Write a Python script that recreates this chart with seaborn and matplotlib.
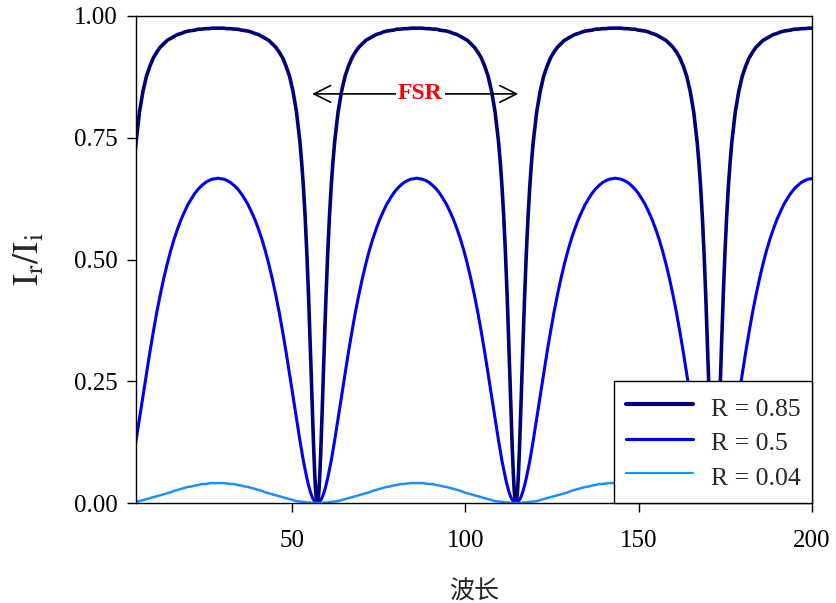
import matplotlib
matplotlib.use("Agg")
import matplotlib.pyplot as plt
import pandas as pd
import seaborn as sns

# Positions of the reflection minima (one free spectral range apart)
dips = [0.0, 57.3, 114.6, 171.9, 229.2]

# Distance from a minimum and the reflected fraction read at that distance
offsets = [0, 0.25, 0.5, 0.75, 1, 1.25, 1.5, 1.75, 2, 2.5, 3, 3.5, 4, 4.5, 5,
           6, 7, 8, 9, 10, 11, 12, 13, 14, 15, 16, 17, 18, 19, 20, 21, 22,
           23, 24, 25, 26, 27, 28, 28.65]
r085 = [0.000, 0.007, 0.028, 0.062, 0.105, 0.155, 0.208, 0.264, 0.318,
        0.421, 0.511, 0.587, 0.649, 0.699, 0.741,
        0.803, 0.845, 0.876, 0.897, 0.914, 0.926, 0.936, 0.943, 0.950,
        0.954, 0.958, 0.962, 0.964, 0.967, 0.969, 0.970, 0.971, 0.973,
        0.973, 0.974, 0.974, 0.975, 0.975, 0.975]
r050 = [0.000, 0.000, 0.002, 0.003, 0.006, 0.009, 0.013, 0.018, 0.023,
        0.036, 0.051, 0.068, 0.086, 0.107, 0.128,
        0.173, 0.219, 0.265, 0.310, 0.352, 0.392, 0.428, 0.461, 0.491,
        0.518, 0.542, 0.563, 0.582, 0.598, 0.613, 0.625, 0.636, 0.645,
        0.652, 0.658, 0.662, 0.665, 0.666, 0.667]
r004 = [0.000, 0.000, 0.000, 0.000, 0.000, 0.000, 0.000, 0.000, 0.001,
        0.001, 0.001, 0.002, 0.002, 0.003, 0.003,
        0.004, 0.006, 0.008, 0.010, 0.012, 0.014, 0.016, 0.018, 0.020,
        0.022, 0.025, 0.027, 0.029, 0.031, 0.033, 0.034, 0.036, 0.037,
        0.039, 0.039, 0.040, 0.041, 0.041, 0.041]

labels = ["R = 0.85", "R = 0.5", "R = 0.04"]
colors = ["#00007a", "#0000f0", "#1e8fff"]
widths = [2.6, 2.2, 1.8]
legend_widths = [3.0, 2.3, 1.6]

yticks = [0.0, 0.25, 0.5, 0.75, 1.0]
xticks = [50, 100, 150, 200]

# Long-form table: every profile sample mirrored around each minimum
rows = []
for c in dips:
    for sign in (-1, 1):
        for d, a, b, e in zip(offsets, r085, r050, r004, strict=True):
            x = round(c + sign * d, 3)
            rows.append((x, labels[0], a))
            rows.append((x, labels[1], b))
            rows.append((x, labels[2], e))
df = pd.DataFrame(rows, columns=["x", "R", "y"])
df = df.drop_duplicates(subset=["x", "R"]).sort_values("x")

sns.set_theme(style="ticks")
plt.rcParams["font.family"] = ["Liberation Serif", "DejaVu Serif"]
plt.rcParams["mathtext.fontset"] = "stix"

fig = plt.figure(figsize=(8.37, 6.03), dpi=100)
ax = fig.add_axes([0.1625, 0.1658, 0.8075, 0.8077])

for lab, col, lw in zip(labels, colors, widths):
    sub = df[df["R"] == lab]
    sns.lineplot(data=sub, x="x", y="y", color=col, linewidth=lw,
                 estimator=None, sort=True, ax=ax, label=lab)

ax.set_xlim(5, 200)
ax.set_ylim(0, 1)
ax.set_xticks(xticks)
ax.set_yticks(yticks)
ax.set_yticklabels([f"{v:.2f}" for v in yticks])
ax.tick_params(axis="both", direction="out", length=6.5, width=1,
               labelsize=18, color="black", labelcolor="black")
ax.tick_params(axis="y", pad=7)
ax.tick_params(axis="x", pad=13)
ax.tick_params(top=False, right=False)
for s in ax.spines.values():
    s.set_visible(True)
    s.set_color("black")
    s.set_linewidth(1.0)

ax.set_ylabel(r"$\mathrm{I_r/I_i}$", fontsize=26, labelpad=19)
ax.set_xlabel("波长", family=["Noto Sans CJK SC", "DejaVu Sans"],
              fontsize=18, labelpad=19)

# Free spectral range marker
ax.annotate("", xy=(55.8, 0.84), xytext=(115.3, 0.84),
            arrowprops=dict(arrowstyle="<->", color="black", lw=1.2,
                            mutation_scale=30, shrinkA=0, shrinkB=0))
ax.text(87, 0.84, "FSR", color="#ff0000", fontsize=17, fontweight="bold",
        ha="center", va="center",
        bbox=dict(facecolor="white", edgecolor="none", pad=1.5))

leg = ax.legend(loc="lower right", fontsize=18.5, frameon=True,
                fancybox=False, edgecolor="black", framealpha=1,
                borderaxespad=0, handlelength=2.6, handletextpad=0.7,
                handleheight=1.4, labelspacing=0.2, borderpad=0.45)
leg.get_frame().set_linewidth(1.0)
for line, lw in zip(leg.get_lines(), legend_widths):
    line.set_linewidth(lw)

fig.savefig("out.png", dpi=100)
